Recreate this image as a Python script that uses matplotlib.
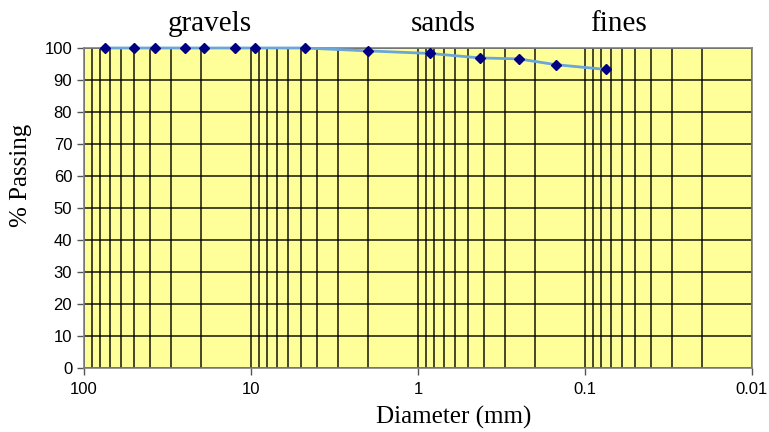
import numpy as np
import matplotlib.pyplot as plt
from matplotlib.ticker import LogLocator, FixedLocator, NullFormatter

# Sieve analysis data (diameter in mm, percent passing)
diameter = [75, 50, 37.5, 25, 19, 12.5, 9.5, 4.75, 2.0, 0.85, 0.425, 0.25, 0.15, 0.075]
passing = [100, 100, 100, 100, 100, 100, 100, 100, 99.1, 98.3, 96.9, 96.6, 94.8, 93.3]
x_ticks = [100, 10, 1, 0.1, 0.01]
x_tick_labels = ["100", "10", "1", "0.1", "0.01"]
zone_names = ["gravels", "sands", "fines"]
zone_pos = [17.6, 0.71, 0.063]

fig = plt.figure(figsize=(7.69, 4.32), dpi=100)
ax = fig.add_axes([84 / 769, 1 - 368 / 432, (752 - 84) / 769, (368 - 48) / 432])
ax.set_facecolor("#FFFF99")

ax.set_xscale("log")
ax.set_xlim(100, 0.01)
ax.set_ylim(0, 100)

# vertical grid on every log subdivision
ax.xaxis.set_major_locator(FixedLocator(x_ticks))
ax.xaxis.set_minor_locator(LogLocator(base=10, subs=np.arange(2, 10)))
ax.xaxis.set_minor_formatter(NullFormatter())
ax.set_xticklabels(x_tick_labels)
ax.set_yticks(np.arange(0, 101, 10))

ax.grid(True, which="both", axis="x", color="black", linewidth=1.2, alpha=0.85)
ax.grid(True, which="major", axis="y", color="black", linewidth=1.2, alpha=0.85)
ax.tick_params(axis="x", which="minor", length=0)
ax.tick_params(axis="both", which="major", length=5, width=1, color="#555555",
               labelsize=12, labelcolor="black")
ax.tick_params(axis="x", which="major", pad=5)
for lbl in ax.get_xticklabels() + ax.get_yticklabels():
    lbl.set_fontfamily("Liberation Sans")

for s in ax.spines.values():
    s.set_color("#808080")
    s.set_linewidth(1.2)

ax.plot(diameter, passing, color="#6AA6DA", linewidth=2, marker="D",
        markersize=5, markerfacecolor="#000080", markeredgecolor="#000080",
        clip_on=False, zorder=5)

ax.set_xlabel("Diameter (mm)", fontsize=18, fontfamily="Liberation Serif")
ax.set_ylabel("% Passing", fontsize=18, fontfamily="Liberation Serif")
ax.xaxis.set_label_coords(0.554, -0.12)
ax.yaxis.set_label_coords(-0.078, 0.603)

for name, xpos in zip(zone_names, zone_pos):
    ax.text(xpos, 103.5, name, fontsize=21, fontfamily="Liberation Serif",
            ha="center", va="bottom")

fig.savefig("out.png", dpi=100)
